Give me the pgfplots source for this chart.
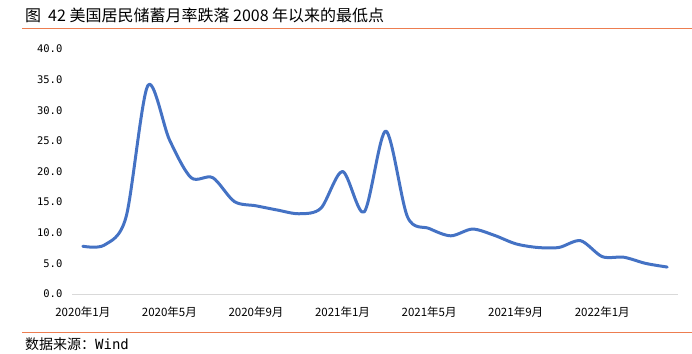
\documentclass[border=0pt]{standalone}
\usepackage{pgfplots}
\pgfplotsset{compat=1.18}
\usepackage{fontspec}
\setmainfont{Noto Sans CJK SC}
\newfontfamily\monofont{DejaVu Sans Mono}
\definecolor{linecol}{RGB}{68,114,196}
\definecolor{rulecol}{RGB}{237,125,80}
\definecolor{axcol}{RGB}{217,217,217}
\begin{document}
\begin{tikzpicture}[x=1pt,y=1pt]
\path[use as bounding box] (0,0) rectangle (692,353);
\draw[rulecol, line width=1pt] (22,324) -- (692,324);
\draw[rulecol, line width=1pt] (22,21) -- (692,21);
\node[anchor=west, inner sep=0, font=\fontsize{16}{18}\selectfont] at (25,337.5) {图\hspace{7pt}42 美国居民储蓄月率跌落 2008 年以来的最低点};
\node[anchor=west, inner sep=0, font=\fontsize{14}{16}\selectfont] at (25,8.5) {数据来源：{\monofont Wind}};
\begin{axis}[at={(72pt,59pt)}, anchor=south west, scale only axis,
  width=606pt, height=245pt,
  xmin=0, xmax=28, ymin=0, ymax=40,
  axis x line=bottom, axis y line=left,
  x axis line style={draw=axcol, line width=1pt, -},
  y axis line style={draw=none},
  ytick={0,5,...,40},
  ytick style={draw=none},
  yticklabel style={font=\monofont\fontsize{10.5}{12}\selectfont, xshift=-4pt, /pgf/number format/.cd, fixed, fixed zerofill, precision=1, assume math mode=true},
  xtick={0.5,4.5,...,24.5},
  xticklabels={2020年1月,2020年5月,2020年9月,2021年1月,2021年5月,2021年9月,2022年1月},
  xticklabel style={font=\fontsize{11.5}{13}\selectfont, yshift=-7pt},
  xtick style={draw=none},
  extra x ticks={0,4,...,28},
  extra x tick labels={},
  extra x tick style={tick align=outside, major tick length=4pt, tick style={draw=axcol, line width=1pt}},
  clip=false]
\addplot[linecol, line width=3pt, smooth, line join=round, line cap=round] coordinates {
(0.5,7.8) (1.5,8.0) (2.5,12.6) (3.5,34.0) (4.5,25.2) (5.5,19.0) (6.5,19.0)
(7.5,15.1) (8.5,14.4) (9.5,13.7) (10.5,13.1) (11.5,14.0) (12.5,20.0) (13.5,13.4)
(14.5,26.6) (15.5,12.6) (16.5,10.7) (17.5,9.5) (18.5,10.6) (19.5,9.6) (20.5,8.2)
(21.5,7.6) (22.5,7.6) (23.5,8.7) (24.5,6.1) (25.5,6.0) (26.5,5.0) (27.5,4.4)
};
\end{axis}
\end{tikzpicture}
\end{document}
